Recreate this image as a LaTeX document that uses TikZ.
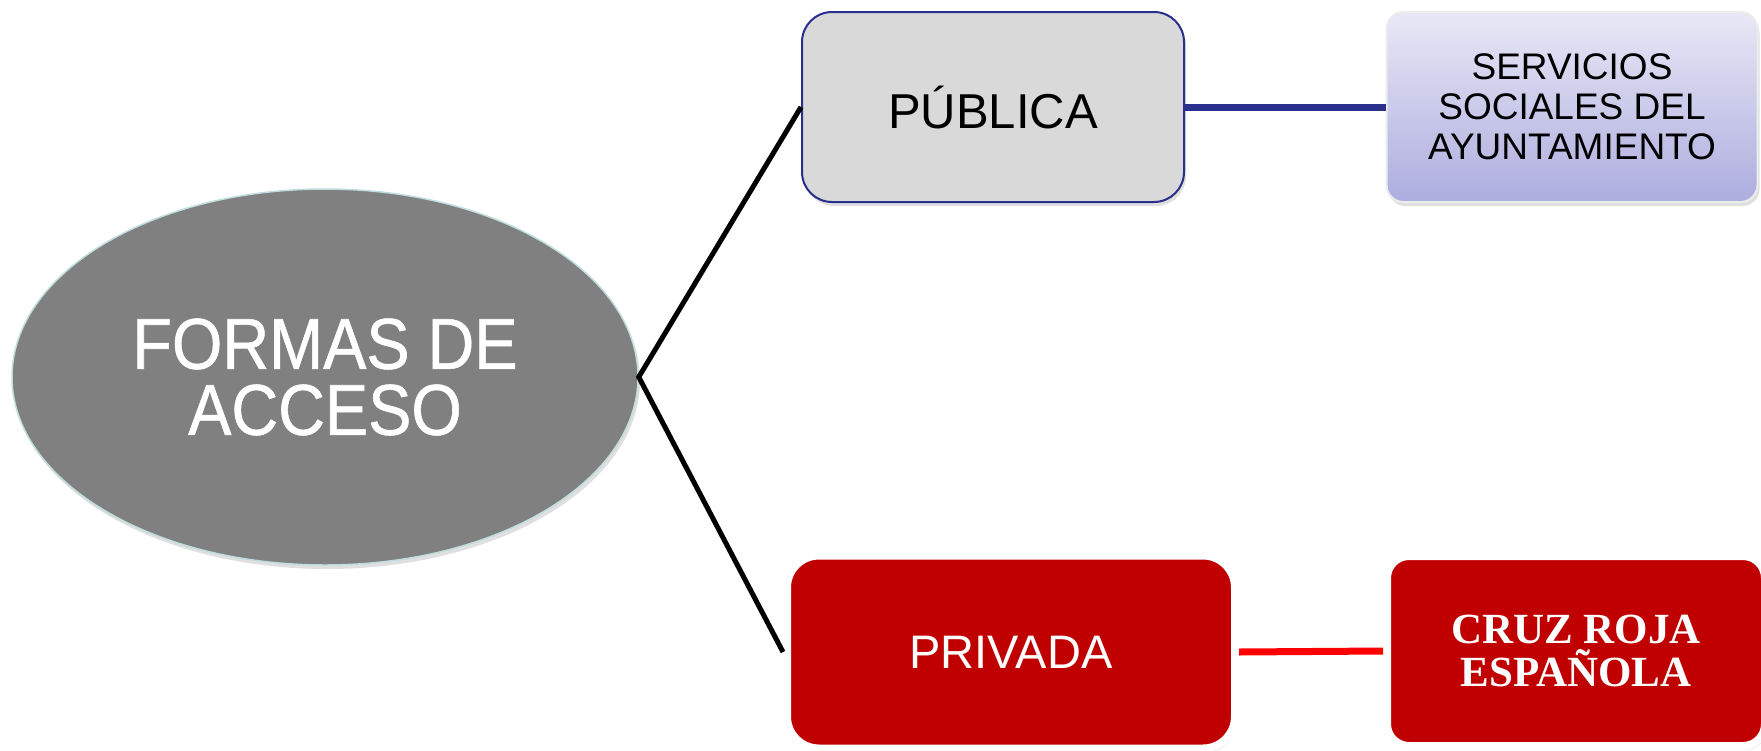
\documentclass[tikz,border=0pt]{standalone}
\usepackage{fontspec}
\setmainfont{Liberation Sans}
\newfontfamily\timesfont{Liberation Serif}
\newfontfamily\narrowfont[FakeStretch=0.9, FakeBold=0.8]{Liberation Sans}
\usepackage{xcolor}
\usetikzlibrary{shapes.geometric}
\usetikzlibrary{shadows}
\definecolor{ovalgray}{HTML}{808080}
\definecolor{ovalrim}{HTML}{BFDDDD}
\definecolor{boxgray}{HTML}{D9D9D9}
\definecolor{boxnavy}{HTML}{2A2F8E}
\definecolor{lilactop}{HTML}{E8E8F6}
\definecolor{lilacbot}{HTML}{ADADDF}
\definecolor{boxred}{HTML}{C00000}
\tikzset{
  softshadow/.style={drop shadow={opacity=.25, shadow xshift=2pt, shadow yshift=-4pt}},
  formbox/.style={rectangle, inner sep=0pt, align=center, softshadow},
  redbox/.style={formbox, fill=boxred, draw=white, line width=8pt, text=white}
}

\begin{document}
\begin{tikzpicture} [x=1pt, y=-1pt]
\useasboundingbox (0,0) rectangle (1761,750);
\node[ellipse, fill=ovalgray, draw=ovalrim, line width=1.5pt, inner sep=0pt,
  minimum width=626pt, minimum height=376pt, text=white, align=center, softshadow,
  font=\narrowfont\fontsize{72}{66}\selectfont] (acc) at (325,377) {FORMAS DE\\ACCESO};
\node[formbox, fill=boxgray, draw=boxnavy, line width=2pt, rounded corners=30pt,
  minimum width=382pt, minimum height=190pt,
  font=\fontsize{49}{49}\selectfont] (pub) at (993,107) {PÚBLICA};
\node[formbox, top color=lilactop, bottom color=lilacbot, draw=white!85!gray, line width=2pt,
  rounded corners=17pt, minimum width=371pt, minimum height=190pt,
  font=\fontsize{37}{40}\selectfont] (serv) at (1572,107) {SERVICIOS\\SOCIALES DEL\\AYUNTAMIENTO};
\node[redbox, rounded corners=32pt, minimum width=448pt, minimum height=193pt,
  font=\fontsize{47}{47}\selectfont] (priv) at (1011,652) {PRIVADA};
\node[redbox, rounded corners=22pt, minimum width=378pt, minimum height=190pt,
  font=\timesfont\bfseries\fontsize{43}{43}\selectfont] (cruz) at (1576,651) {CRUZ ROJA\\ESPAÑOLA};
\draw[black, line width=5pt] (pub.west) -- (acc.east) -- (priv.west);
\draw[boxnavy, line width=7pt] (pub.east) -- (serv.west);
\draw[red, line width=7pt] (priv.east) -- (cruz.west);
\end{tikzpicture}
\end{document}
